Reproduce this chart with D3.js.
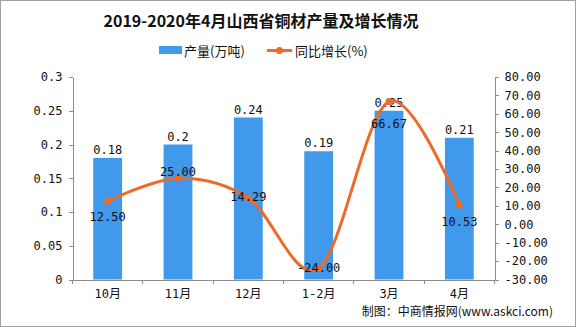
<!DOCTYPE html>
<html>
<head>
<meta charset="utf-8">
<script src="https://cdn.jsdelivr.net/npm/d3@7/dist/d3.min.js"></script>
<style>
  html, body { margin: 0; padding: 0; background: #fff; }
  svg { display: block; }
  .num { font-family: "DejaVu Sans Mono", "Noto Sans CJK SC", monospace; font-size: 12px; fill: #111; }
  .cjk { font-family: "Noto Sans CJK SC", "DejaVu Sans", sans-serif; fill: #111; }
  .axis path, .axis line { stroke: #8c8c8c; shape-rendering: crispEdges; }
  .axis text { font-family: "DejaVu Sans Mono", "Noto Sans CJK SC", monospace; font-size: 12px; fill: #111; }
</style>
</head>
<body>
<svg id="chart" width="576" height="327"></svg>
<script>
// Monthly copper output in Shanxi and its year-on-year growth
const months = ["10月", "11月", "12月", "1-2月", "3月", "4月"];
const output = [0.18, 0.2, 0.24, 0.19, 0.25, 0.21];          // 万吨
const growth = [12.50, 25.00, 14.29, -24.00, 66.67, 10.53];   // %
const leftTicks = [0, 0.05, 0.1, 0.15, 0.2, 0.25, 0.3];
const rightTicks = [-30, -20, -10, 0, 10, 20, 30, 40, 50, 60, 70, 80];

const W = 576, H = 327;
const plot = { left: 72.5, right: 494.5, top: 77, bottom: 279.5 };

const svg = d3.select("#chart");

// outer frame
svg.append("rect")
  .attr("x", 0.5).attr("y", 0.5)
  .attr("width", W - 1).attr("height", H - 1)
  .attr("fill", "#fff").attr("stroke", "#a0a0a0");

const x = d3.scaleBand().domain(months).range([plot.left, plot.right]).paddingInner(0).paddingOuter(0);
const yL = d3.scaleLinear().domain([0, 0.3]).range([plot.bottom, plot.top]);
const yR = d3.scaleLinear().domain([-30, 80]).range([plot.bottom, plot.top]);

// title
svg.append("text")
  .attr("class", "cjk")
  .attr("x", 261).attr("y", 27)
  .attr("text-anchor", "middle")
  .style("font-size", "16px").style("font-weight", "bold")
  .text("2019-2020年4月山西省铜材产量及增长情况");

// legend
const barColor = "#4199ec";
const lineColor = "#ee6a26";
const lg = svg.append("g");
lg.append("rect").attr("x", 159).attr("y", 46).attr("width", 23).attr("height", 8).attr("fill", barColor);
lg.append("text").attr("class", "cjk").attr("x", 184).attr("y", 55.5)
  .style("font-size", "13px").text("产量(万吨)");
lg.append("line").attr("x1", 267).attr("x2", 292).attr("y1", 50.5).attr("y2", 50.5)
  .attr("stroke", lineColor).attr("stroke-width", 3);
lg.append("circle").attr("cx", 279.5).attr("cy", 50.5).attr("r", 3.5).attr("fill", lineColor);
lg.append("text").attr("class", "cjk").attr("x", 295).attr("y", 55.5)
  .style("font-size", "13px").text("同比增长(%)");

// axes
svg.append("g").attr("class", "axis")
  .attr("transform", `translate(${plot.left},0)`)
  .call(d3.axisLeft(yL).tickValues(leftTicks).tickFormat(d => String(+d.toFixed(2))).tickSize(4).tickSizeOuter(0).tickPadding(6));

svg.append("g").attr("class", "axis")
  .attr("transform", `translate(${plot.right},0)`)
  .call(d3.axisRight(yR).tickValues(rightTicks).tickFormat(d => d.toFixed(2)).tickSize(4).tickSizeOuter(0).tickPadding(6));

const xAxis = svg.append("g").attr("class", "axis")
  .attr("transform", `translate(0,${plot.bottom})`)
  .call(d3.axisBottom(x).tickSize(0).tickPadding(10));
xAxis.selectAll(".tick text").attr("dy", "0.71em");
// boundary tick marks between categories
xAxis.selectAll(".bound")
  .data(d3.range(months.length + 1))
  .join("line")
  .attr("class", "bound")
  .attr("x1", i => plot.left + i * x.step())
  .attr("x2", i => plot.left + i * x.step())
  .attr("y1", 0).attr("y2", 4);

// bars
const barW = x.bandwidth() * 0.41;
svg.append("g").selectAll("rect")
  .data(output)
  .join("rect")
  .attr("x", (d, i) => x(months[i]) + x.bandwidth() / 2 - barW / 2)
  .attr("width", barW)
  .attr("y", d => yL(d))
  .attr("height", d => yL(0) - yL(d))
  .attr("fill", barColor);

// bar value labels
svg.append("g").selectAll("text")
  .data(output)
  .join("text")
  .attr("class", "num")
  .attr("text-anchor", "middle")
  .attr("x", (d, i) => x(months[i]) + x.bandwidth() / 2)
  .attr("y", d => yL(d) - 4)
  .text(d => String(d));

// growth line (smoothed)
const cx = i => x(months[i]) + x.bandwidth() / 2;
const line = d3.line()
  .x((d, i) => cx(i))
  .y(d => yR(d))
  .curve(d3.curveCatmullRom.alpha(0));

svg.append("path")
  .datum(growth)
  .attr("d", line)
  .attr("fill", "none")
  .attr("stroke", lineColor)
  .attr("stroke-width", 3)
  .attr("stroke-linejoin", "round");

svg.append("g").selectAll("circle")
  .data(growth)
  .join("circle")
  .attr("cx", (d, i) => cx(i))
  .attr("cy", d => yR(d))
  .attr("r", 3.5)
  .attr("fill", lineColor);

// growth value labels: vertical offset of each label from its point
const growthLabelDy = [20, -2, 3, 4, 26, 21];
svg.append("g").selectAll("text")
  .data(growth)
  .join("text")
  .attr("class", "num")
  .attr("text-anchor", "middle")
  .attr("x", (d, i) => cx(i))
  .attr("y", (d, i) => yR(d) + growthLabelDy[i])
  .text(d => d.toFixed(2));

// source note
svg.append("text")
  .attr("class", "cjk")
  .attr("x", 553).attr("y", 316)
  .attr("text-anchor", "end")
  .style("font-size", "12px")
  .text("制图：中商情报网(www.askci.com)");
</script>
</body>
</html>
